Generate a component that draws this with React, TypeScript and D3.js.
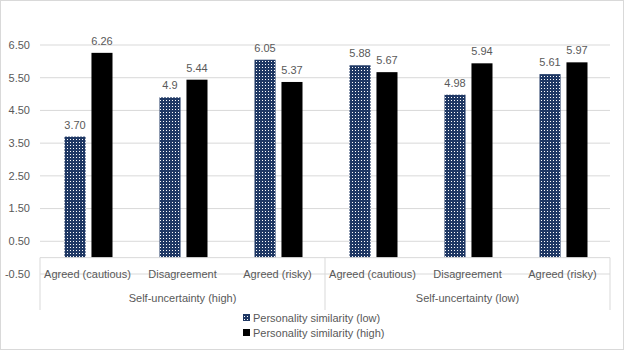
import React from "react";
import * as d3 from "d3";

const categories = [
  "Agreed (cautious)",
  "Disagreement",
  "Agreed (risky)",
  "Agreed (cautious)",
  "Disagreement",
  "Agreed (risky)",
];
const groups = ["Self-uncertainty (high)", "Self-uncertainty (low)"];
const lowValues = [3.7, 4.9, 6.05, 5.88, 4.98, 5.61];
const highValues = [6.26, 5.44, 5.37, 5.67, 5.94, 5.97];
const lowLabels = ["3.70", "4.9", "6.05", "5.88", "4.98", "5.61"];
const highLabels = ["6.26", "5.44", "5.37", "5.67", "5.94", "5.97"];
const yTicks = [-0.5, 0.5, 1.5, 2.5, 3.5, 4.5, 5.5, 6.5];
const seriesNames = ["Personality similarity (low)", "Personality similarity (high)"];

const W = 624;
const H = 350;
const FONT = "'Liberation Sans', Arial, sans-serif";
const TXT = "#595959";
const GRID = "#d9d9d9";

export default function App() {
  const left = 40;
  const right = 610;
  const y = d3.scaleLinear().domain([-0.5, 6.5]).range([274, 45]);
  const x = d3
    .scaleBand<number>()
    .domain(categories.map((_, i) => i))
    .range([left, right]);
  const xs = d3
    .scaleBand<string>()
    .domain(["low", "high"])
    .range([0, 48])
    .paddingInner(0.22);
  const bandOff = (x.bandwidth() - 48) / 2 + 1;
  const zeroY = y(0);
  const groupW = (right - left) / groups.length;

  return (
    <svg
      width={W}
      height={H}
      style={{ position: "absolute", left: 0, top: 0, background: "#fff" }}
      fontFamily={FONT}
    >
      <defs>
        <pattern id="dots" width="3" height="3" patternUnits="userSpaceOnUse">
          <rect width="3" height="3" fill="#1f3864" />
          <rect x="1" y="1" width="1" height="1" fill="#ffffff" />
        </pattern>
      </defs>
      <rect x={0.5} y={0.5} width={W - 1} height={H - 1} fill="#fff" stroke={GRID} />
      {yTicks.map((t) => (
        <g key={t}>
          <line x1={left} x2={right} y1={y(t)} y2={y(t)} stroke={GRID} strokeWidth={1} />
          <text
            x={30}
            y={y(t)}
            dy="0.35em"
            textAnchor="end"
            fontSize={11}
            fill={TXT}
          >
            {t.toFixed(2)}
          </text>
        </g>
      ))}
      {/* bars */}
      {categories.map((c, i) => {
        const x0 = (x(i) ?? 0) + bandOff;
        const lx = x0 + (xs("low") ?? 0);
        const hx = x0 + (xs("high") ?? 0);
        const bw = xs.bandwidth();
        return (
          <g key={i}>
            <rect
              x={lx}
              y={y(lowValues[i])}
              width={bw}
              height={zeroY - y(lowValues[i])}
              fill="url(#dots)"
            />
            <rect
              x={hx}
              y={y(highValues[i])}
              width={bw}
              height={zeroY - y(highValues[i])}
              fill="#000"
            />
            <text
              x={lx + bw / 2}
              y={y(lowValues[i]) - 8}
              textAnchor="middle"
              fontSize={11}
              fill={TXT}
            >
              {lowLabels[i]}
            </text>
            <text
              x={hx + bw / 2}
              y={y(highValues[i]) - 8}
              textAnchor="middle"
              fontSize={11}
              fill={TXT}
            >
              {highLabels[i]}
            </text>
            <text
              x={(x(i) ?? 0) + x.bandwidth() / 2}
              y={278}
              textAnchor="middle"
              fontSize={11}
              fill={TXT}
            >
              {c}
            </text>
          </g>
        );
      })}
      {/* category axis */}
      <line x1={left} x2={right} y1={zeroY} y2={zeroY} stroke={GRID} />
      {[0, 1, 2].map((k) => (
        <line
          key={k}
          x1={left + k * groupW}
          x2={left + k * groupW}
          y1={zeroY}
          y2={310}
          stroke={GRID}
        />
      ))}
      {groups.map((g, k) => (
        <text
          key={g}
          x={left + k * groupW + groupW / 2}
          y={302}
          textAnchor="middle"
          fontSize={11}
          fill={TXT}
        >
          {g}
        </text>
      ))}
      {/* legend */}
      {seriesNames.map((s, k) => (
        <g key={s} transform={`translate(243, ${318 + k * 15})`}>
          <rect x={0} y={-4} width={7} height={7} fill={k === 0 ? "url(#dots)" : "#000"} />
          <text x={10} y={0} dy="0.35em" fontSize={11} fill={TXT}>
            {s}
          </text>
        </g>
      ))}
    </svg>
  );
}
